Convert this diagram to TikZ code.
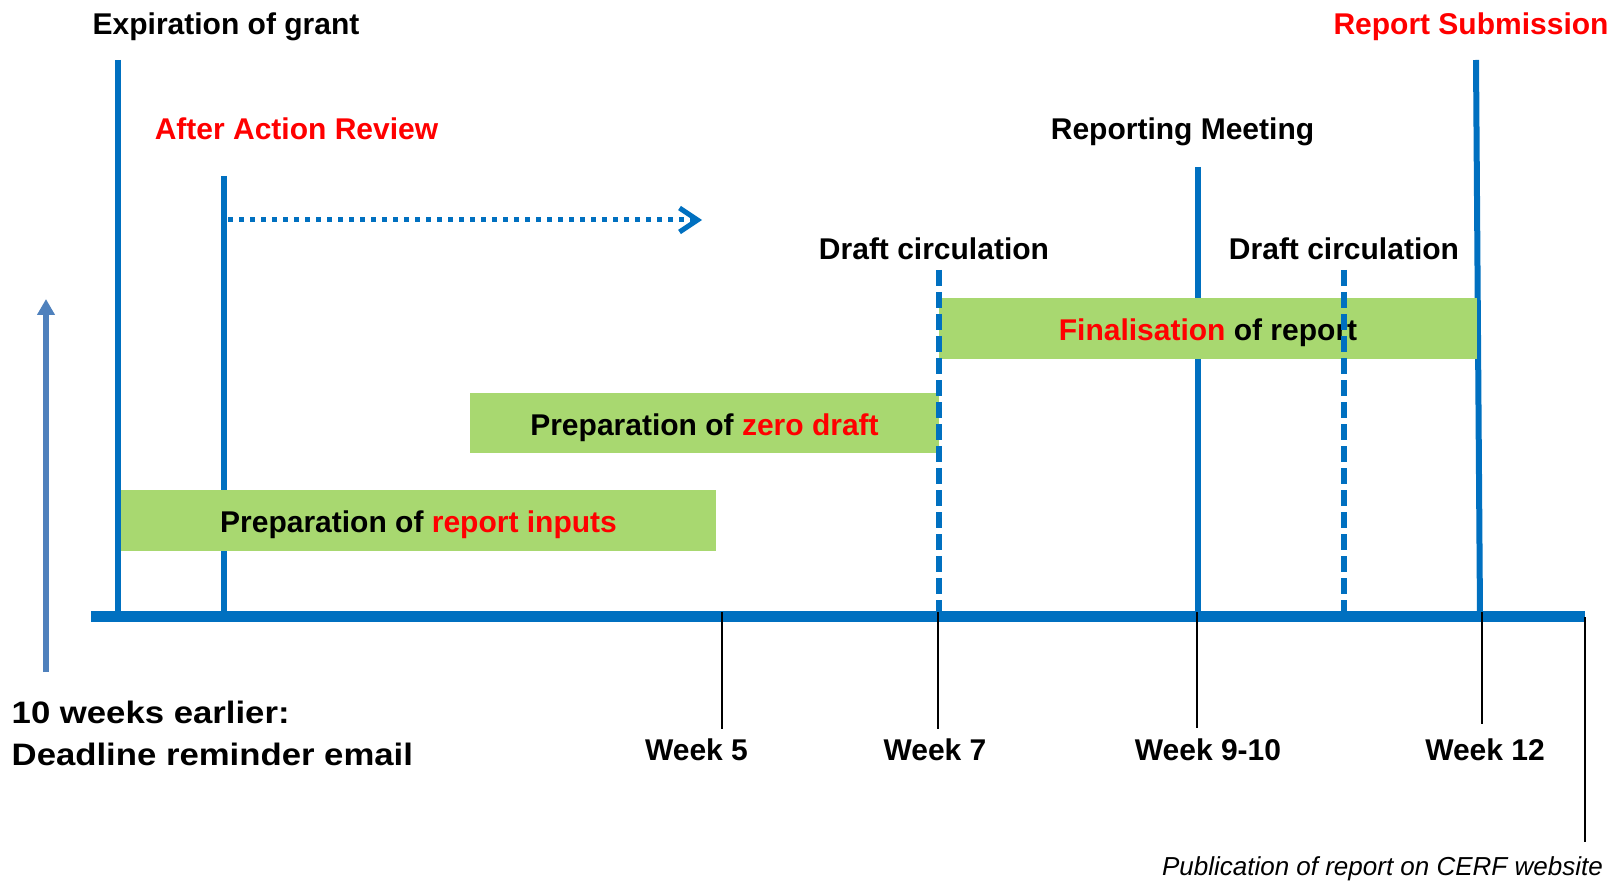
\documentclass[tikz,border=0pt]{standalone}
\usepackage{fontspec}
\setmainfont{Liberation Sans}
\newfontfamily\widesans[FakeStretch=1.12]{Liberation Sans}
\usetikzlibrary{arrows.meta}
\definecolor{lineblue}{RGB}{0,112,192}
\definecolor{barGreen}{RGB}{168,216,112}
\definecolor{hlred}{RGB}{255,0,0}
\definecolor{arrowblue}{RGB}{79,129,189}
\newcommand{\labfont}{\fontsize{30}{36}\selectfont\bfseries}
\begin{document}
\begin{tikzpicture}[x=1pt,y=-1pt,
  lbl/.style={inner sep=0pt, anchor=base, font=\labfont},
  vline/.style={draw=lineblue, line width=6pt},
  dline/.style={draw=lineblue, line width=6.5pt, dash pattern=on 16pt off 6pt},
  tickline/.style={draw=black, line width=2.5pt},
  gbox/.style={fill=barGreen, inner sep=0pt, text depth=0pt, text height=24pt, font=\labfont}]
\useasboundingbox (0,0) rectangle (1619,882);

% coordinates
\coordinate (expT) at (118,60);   \coordinate (expB) at (118,616);
\coordinate (aarT) at (224,176);  \coordinate (aarB) at (224,616);
\coordinate (rmT) at (1198,167);  \coordinate (rmB) at (1198,616);
\coordinate (rsT) at (1476,60);   \coordinate (rsB) at (1480,616);
\coordinate (dc1T) at (939,270);  \coordinate (dc1B) at (939,616);
\coordinate (dc2T) at (1344,270); \coordinate (dc2B) at (1344,616);
\coordinate (axL) at (91,616.5);  \coordinate (axR) at (1585,616.5);
\coordinate (arS) at (228,220);   \coordinate (arE) at (702,220);
\coordinate (upS) at (46,672);    \coordinate (upE) at (46,299);

% solid milestone lines
\draw[vline] (expT) -- (expB);
\draw[vline] (aarT) -- (aarB);
\draw[vline] (rmT) -- (rmB);
\draw[vline] (rsT) -- (rsB);

% bars
\node[gbox, minimum width=538pt, minimum height=61pt] (fin) at (1208,329)
  {\textcolor{hlred}{Finalisation} of report};
\node[gbox, minimum width=469pt, minimum height=60pt] (zero) at (704.5,423)
  {Preparation of \textcolor{hlred}{zero draft}};
\node[gbox, minimum width=595pt, minimum height=61pt] (inputs) at (418.5,520.5)
  {Preparation of \textcolor{hlred}{report inputs}};

% dashed draft-circulation lines
\draw[dline] (dc1T) -- (dc1B);
\draw[dline] (dc2T) -- (dc2B);

% axis
\draw[draw=lineblue, line width=11pt] (axL) -- (axR);

% dotted arrow after AAR
\draw[draw=lineblue, line width=5pt, dash pattern=on 5pt off 6pt,
  -{Straight Barb[length=18pt,width=24pt,line width=5pt]}] (arS) -- (arE);

% left up arrow
\draw[draw=arrowblue, line width=5.5pt, -{Triangle[length=16pt,width=17pt]}] (upS) -- (upE);

% ticks
\coordinate (t5a) at (722,612);   \coordinate (t5b) at (722,729);
\coordinate (t7a) at (938,612);   \coordinate (t7b) at (938,729);
\coordinate (t9a) at (1197,612);  \coordinate (t9b) at (1197,728);
\coordinate (t12a) at (1482,612); \coordinate (t12b) at (1482,724);
\coordinate (tpa) at (1585,617);  \coordinate (tpb) at (1585,842);
\draw[tickline] (t5a) -- (t5b);
\draw[tickline] (t7a) -- (t7b);
\draw[tickline] (t9a) -- (t9b);
\draw[tickline] (t12a) -- (t12b);
\draw[tickline] (tpa) -- (tpb);

% top labels
\node[lbl] (expl) at (226,35) {Expiration of grant};
\node[lbl, text=hlred] (rsl) at (1471,35) {Report Submission};
\node[lbl, text=hlred] (aarl) at (296.5,140) {After Action Review};
\node[lbl] (rml) at (1182.5,140) {Reporting Meeting};
\node[lbl] (dcl1) at (934,260) {Draft circulation};
\node[lbl] (dcl2) at (1344,260) {Draft circulation};

% week labels
\node[lbl] (w5) at (696.5,760) {Week 5};
\node[lbl] (w7) at (935,760) {Week 7};
\node[lbl] (w910) at (1208,760) {Week 9-10};
\node[lbl] (w12) at (1485,760) {Week 12};

% bottom-left text
\node[anchor=base west, inner sep=0pt, font=\widesans\fontsize{31}{37}\selectfont\bfseries] (tenw) at (11.5,723) {10 weeks earlier:};
\node[anchor=base west, inner sep=0pt, font=\widesans\fontsize{31}{37}\selectfont\bfseries] (deadl) at (11.5,765) {Deadline reminder email};

% publication
\node[anchor=base east, inner sep=0pt, font=\fontsize{26}{31}\selectfont\itshape] (pub) at (1603,875) {Publication of report on CERF website};
\end{tikzpicture}
\end{document}
